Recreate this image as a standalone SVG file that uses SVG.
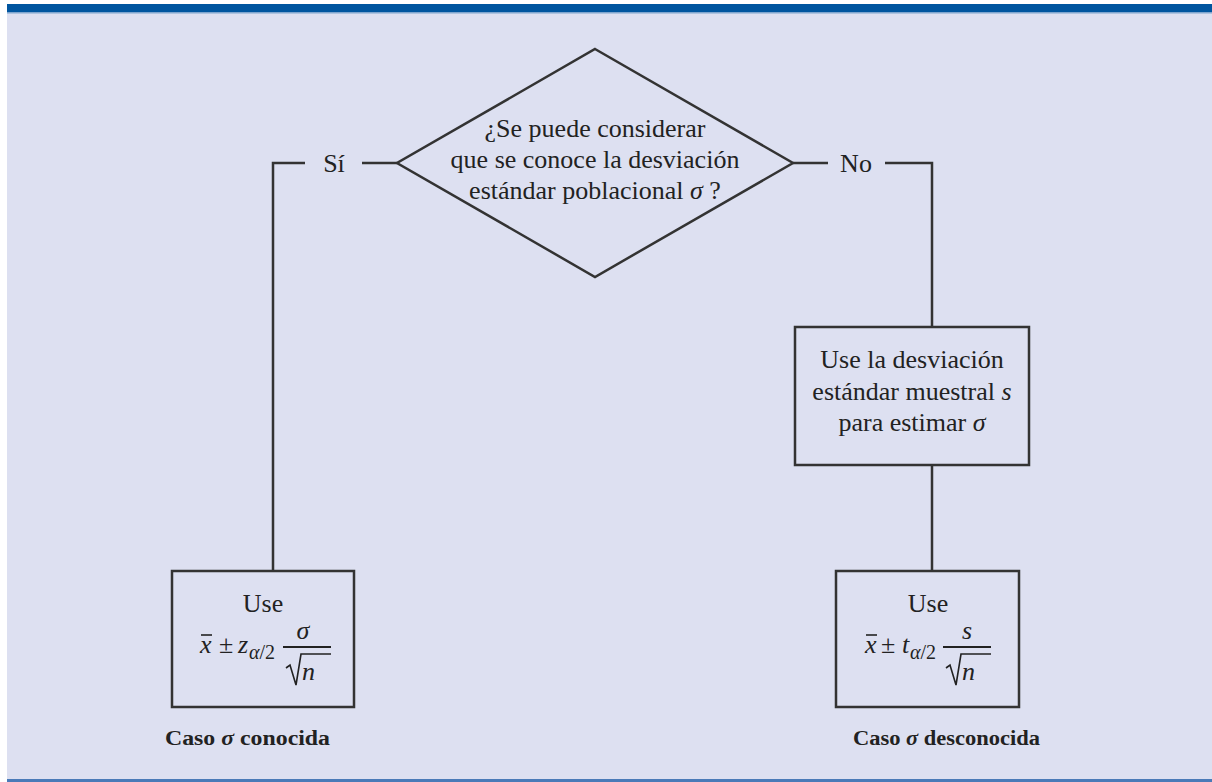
<svg xmlns="http://www.w3.org/2000/svg" width="1212" height="782" viewBox="0 0 1212 782">
<style>
.ln{stroke:#333;stroke-width:2.5;fill:none}
.bx{stroke:#333;stroke-width:2.5;fill:none}
.rad{stroke:#222;stroke-width:1.6;fill:none;stroke-linejoin:miter}
.t{font-family:"Liberation Serif","Times New Roman",serif;font-size:26px;fill:#222;text-anchor:middle}
.tl{font-family:"Liberation Serif","Times New Roman",serif;font-size:26px;fill:#222}
.i{font-style:italic}
.sub{font-family:"Liberation Serif","Times New Roman",serif;font-size:20px;fill:#222}
.cap{font-family:"Liberation Serif","Times New Roman",serif;font-size:20px;font-weight:bold;fill:#222}
</style>
<rect x="0" y="0" width="1212" height="782" fill="#ffffff"/>
<rect x="7" y="4" width="1205" height="778" fill="#dde0f1"/>
<rect x="7" y="4" width="1205" height="8" fill="#00559f"/>
<rect x="7" y="12" width="1205" height="1.5" fill="#7fa6cf"/>
<rect x="7" y="779" width="1205" height="3" fill="#4a7ab8"/>

<g id="connectors">
<polyline class="ln" points="305,163 273,163 273,571"/>
<line class="ln" x1="362" y1="163" x2="397" y2="163"/>
<line class="ln" x1="793" y1="163" x2="828" y2="163"/>
<polyline class="ln" points="885,163 932,163 932,327"/>
<line class="ln" x1="932" y1="465" x2="932" y2="571"/>
<text class="t" x="334" y="172">Sí</text>
<text class="t" x="856" y="172">No</text>
</g>

<g id="decision">
<polygon class="bx" points="595,49 793,163 595,277 397,163"/>
<text class="t" x="595" y="137">¿Se puede considerar</text>
<text class="t" x="595" y="168">que se conoce la desviación</text>
<text class="t" x="595" y="199">estándar poblacional <tspan class="i">σ</tspan> ?</text>
</g>

<g id="estimate">
<rect class="bx" x="795" y="327" width="234" height="138"/>
<text class="t" x="912" y="368">Use la desviación</text>
<text class="t" x="912" y="400">estándar muestral <tspan class="i">s</tspan></text>
<text class="t" x="912" y="431">para estimar <tspan class="i">σ</tspan></text>
</g>

<g id="known">
<rect class="bx" x="172" y="571" width="182" height="136"/>
<text class="t" x="263" y="612">Use</text>
<text class="tl i" x="200" y="653">x</text>
<line x1="201" y1="635" x2="212" y2="635" stroke="#222" stroke-width="1.6"/>
<text class="tl" x="219" y="653">±</text>
<text class="tl i" x="238" y="653">z</text>
<text class="sub" x="249" y="659"><tspan class="i">α</tspan>/2</text>
<line x1="283" y1="647" x2="331" y2="647" stroke="#222" stroke-width="2"/>
<text class="t i" x="303" y="639">σ</text>
<polyline class="rad" points="286,668 290,665 296,685 301,654 331,654"/>
<text class="tl i" x="302" y="680">n</text>
<text class="cap" x="165" y="745" textLength="165" lengthAdjust="spacingAndGlyphs">Caso <tspan class="i">σ</tspan>  conocida</text>
</g>

<g id="unknown">
<rect class="bx" x="836" y="571" width="183" height="136"/>
<text class="t" x="928" y="612">Use</text>
<text class="tl i" x="865" y="653">x</text>
<line x1="866" y1="635" x2="877" y2="635" stroke="#222" stroke-width="1.6"/>
<text class="tl" x="881" y="653">±</text>
<text class="tl i" x="902" y="653">t</text>
<text class="sub" x="910" y="659"><tspan class="i">α</tspan>/2</text>
<line x1="943" y1="647" x2="991" y2="647" stroke="#222" stroke-width="2"/>
<text class="t i" x="967" y="639">s</text>
<polyline class="rad" points="946,668 950,665 956,685 961,654 991,654"/>
<text class="tl i" x="962" y="680">n</text>
<text class="cap" x="853" y="745" textLength="187" lengthAdjust="spacingAndGlyphs">Caso <tspan class="i">σ</tspan> desconocida</text>
</g>
</svg>
